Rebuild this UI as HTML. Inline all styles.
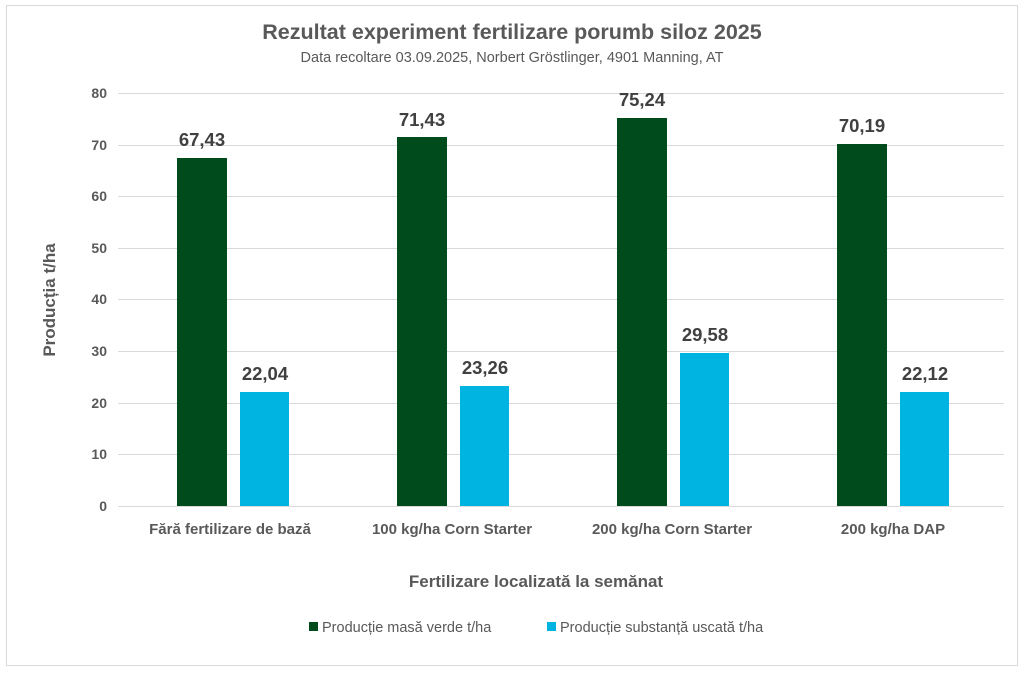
<!DOCTYPE html><html><head><meta charset="utf-8"><style>body{margin:0;background:#fff}svg{display:block;font-family:"Liberation Sans",sans-serif}</style></head><body>
<svg width="1024" height="673" viewBox="0 0 1024 673">
<rect x="6.5" y="5.5" width="1011" height="660" fill="#fff" stroke="#d9d9d9"/>
<text x="512" y="39" text-anchor="middle" font-size="21.5" font-weight="bold" fill="#595959">Rezultat experiment fertilizare porumb siloz 2025</text>
<text x="512" y="62" text-anchor="middle" font-size="14.5" fill="#595959">Data recoltare 03.09.2025, Norbert Gröstlinger, 4901 Manning, AT</text>
<g stroke="#d9d9d9" stroke-width="1">
<line x1="118" x2="1004" y1="93.5" y2="93.5"/><line x1="118" x2="1004" y1="145.5" y2="145.5"/><line x1="118" x2="1004" y1="196.5" y2="196.5"/><line x1="118" x2="1004" y1="248.5" y2="248.5"/><line x1="118" x2="1004" y1="299.5" y2="299.5"/><line x1="118" x2="1004" y1="351.5" y2="351.5"/><line x1="118" x2="1004" y1="403.5" y2="403.5"/><line x1="118" x2="1004" y1="454.5" y2="454.5"/><line x1="118" x2="1004" y1="506.5" y2="506.5"/>
</g>
<g font-size="14" font-weight="bold" fill="#595959" text-anchor="end">
<text x="107" y="98">80</text><text x="107" y="150">70</text><text x="107" y="201">60</text><text x="107" y="253">50</text><text x="107" y="304">40</text><text x="107" y="356">30</text><text x="107" y="408">20</text><text x="107" y="459">10</text><text x="107" y="511">0</text>
</g>
<g fill="#004b1c">
<rect x="177" y="158" width="50" height="348"/><rect x="397" y="137" width="50" height="369"/><rect x="617" y="118" width="50" height="388"/><rect x="837" y="144" width="50" height="362"/>
</g>
<g fill="#00b4e1">
<rect x="240" y="392" width="49" height="114"/><rect x="460" y="386" width="49" height="120"/><rect x="680" y="353" width="49" height="153"/><rect x="900" y="392" width="49" height="114"/>
</g>
<g font-size="18.5" font-weight="bold" fill="#404040" text-anchor="middle">
<text x="202" y="146">67,43</text><text x="265" y="380">22,04</text>
<text x="422" y="126">71,43</text><text x="485" y="374">23,26</text>
<text x="642" y="106">75,24</text><text x="705" y="341">29,58</text>
<text x="862" y="132">70,19</text><text x="925" y="380">22,12</text>
</g>
<g font-size="15" font-weight="bold" fill="#595959" text-anchor="middle">
<text x="230" y="534">Fără fertilizare de bază</text><text x="452" y="534">100 kg/ha Corn Starter</text><text x="672" y="534">200 kg/ha Corn Starter</text><text x="893" y="534">200 kg/ha DAP</text>
</g>
<text x="536" y="587" text-anchor="middle" font-size="17" font-weight="bold" fill="#595959">Fertilizare localizată la semănat</text>
<text transform="translate(55,300) rotate(-90)" text-anchor="middle" font-size="17" font-weight="bold" fill="#595959">Producția t/ha</text>
<rect x="309" y="622" width="9" height="9" fill="#004b1c"/>
<text x="322" y="632" font-size="14.5" fill="#595959">Producție masă verde t/ha</text>
<rect x="547" y="622" width="9" height="9" fill="#00b4e1"/>
<text x="560" y="632" font-size="14.5" fill="#595959">Producție substanță uscată t/ha</text>
</svg></body></html>
